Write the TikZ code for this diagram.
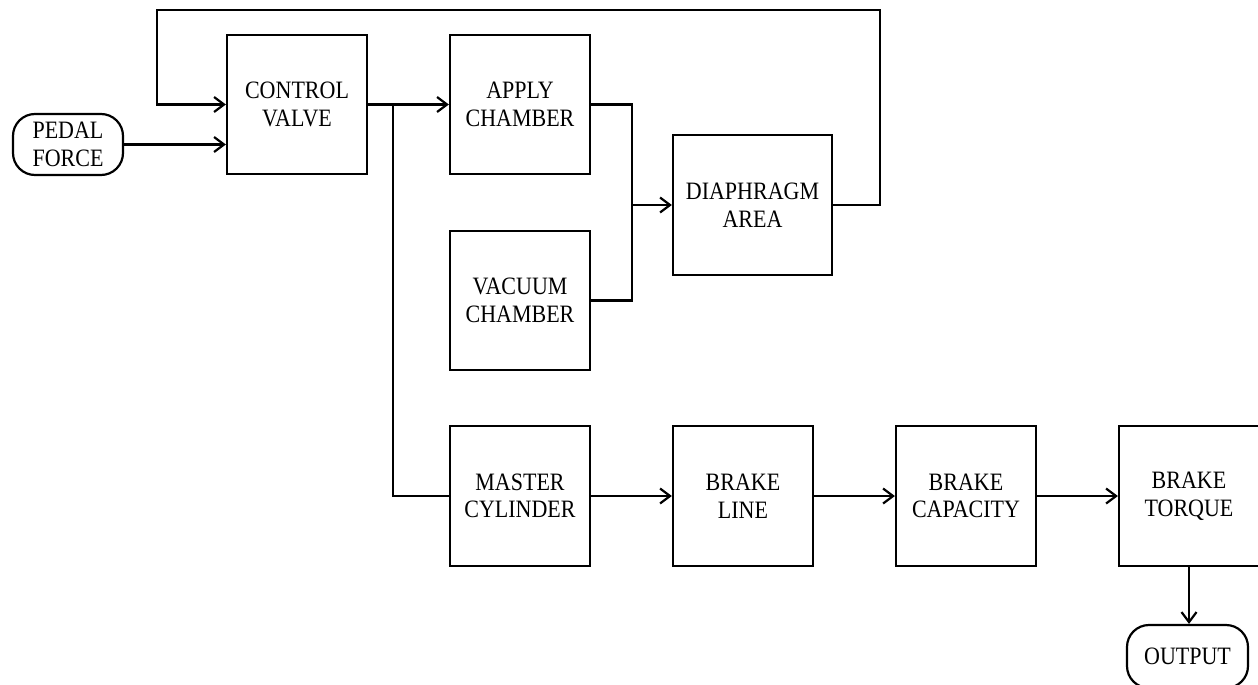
\documentclass[tikz,border=0pt]{standalone}
\usepackage{fontspec}
\setmainfont{Liberation Serif}[FakeStretch=0.88]
\usetikzlibrary{arrows.meta}
\begin{document}
\begin{tikzpicture}[x=1pt,y=1pt,
  txt/.style={align=center,inner sep=0pt,font=\fontsize{25}{27.6}\selectfont},
  blk/.style={txt,draw,line width=2.2pt,minimum width=140pt,minimum height=139pt},
  term/.style={txt,draw,line width=2.2pt,rounded corners=22pt},
  con/.style={line width=2.2pt},
  arr/.style={con,-{Straight Barb[length=10pt,width=15pt,line width=2.2pt]}}]
\useasboundingbox (0,0) rectangle (1258,-685);
\node[term,minimum width=110pt,minimum height=61pt] (pedal) at (68,-144.5) {PEDAL\\FORCE};
\node[blk] (cv) at (297,-104.5) {CONTROL\\VALVE};
\node[blk] (apply) at (520,-104.5) {APPLY\\CHAMBER};
\node[blk] (vac) at (520,-300.5) {VACUUM\\CHAMBER};
\node[blk,minimum width=159pt,minimum height=140pt] (dia) at (752.5,-205) {DIAPHRAGM\\AREA};
\node[blk,minimum height=140pt] (mc) at (520,-496) {MASTER\\CYLINDER};
\node[blk,minimum height=140pt] (bl) at (743,-496) {BRAKE\\LINE};
\node[blk,minimum height=140pt] (bc) at (966,-496) {BRAKE\\CAPACITY};
\node[blk,minimum height=140pt] (bt) at (1189,-496) {BRAKE\\TORQUE};
\node[term,minimum width=121pt,minimum height=63pt] (out) at (1187.5,-656.5) {OUTPUT};
\coordinate (br) at (393,-104.5);
\coordinate (jn) at (632,-205);
\coordinate (fbr) at (880,-205);
\coordinate (fbt) at (880,-10);
\coordinate (fbl) at (157,-10);
% pedal to control valve
\draw[arr] (pedal.east) -- (pedal.east -| cv.west);
% feedback
\draw[arr] (dia.east) -- (fbr) -- (fbt) -- (fbl) |- (cv.west);
% control valve outputs
\draw[arr] (cv.east) -- (apply.west);
\draw[con] (br) |- (mc.west);
% chambers to diaphragm
\draw[con] (apply.east) -| (jn);
\draw[con] (vac.east) -| (jn);
\draw[arr] (jn) -- (dia.west);
% lower chain
\draw[arr] (mc.east) -- (bl.west);
\draw[arr] (bl.east) -- (bc.west);
\draw[arr] (bc.east) -- (bt.west);
\draw[arr] (bt.south) -- (bt.south |- out.north);
\end{tikzpicture}
\end{document}
